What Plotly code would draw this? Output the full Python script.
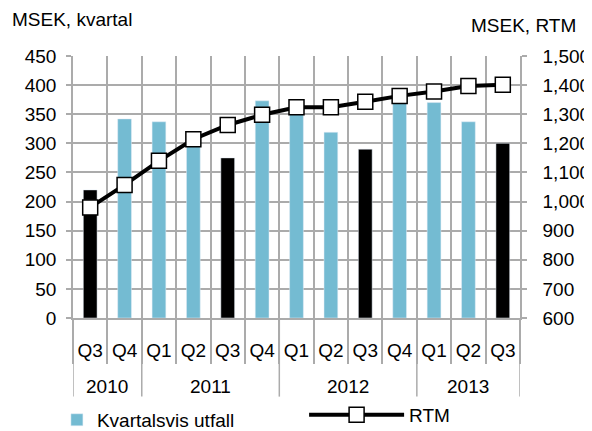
import plotly.graph_objects as go

years = ["2010", "2011", "2012", "2013"]
year_span = [2, 4, 4, 3]  # number of quarters shown per year
quarters = ["Q3", "Q4", "Q1", "Q2", "Q3", "Q4", "Q1", "Q2", "Q3", "Q4", "Q1", "Q2", "Q3"]
kvartal = [220, 342, 337, 305, 275, 373, 360, 319, 290, 372, 370, 337, 300]
rtm = [980, 1057, 1140, 1214, 1263, 1298, 1324, 1324, 1343, 1363, 1378, 1397, 1401]

BLUE = "#74BBD2"
GRID = "#ABABAB"
FONT = "Liberation Sans, Arial, sans-serif"
FS = 19

pos = list(range(len(quarters)))
bounds = [i - 0.5 for i in range(len(quarters) + 1)]
blue_vals = [v if q != "Q3" else None for v, q in zip(kvartal, quarters)]
black_vals = [v if q == "Q3" else None for v, q in zip(kvartal, quarters)]

fig = go.Figure()
fig.add_trace(go.Bar(x=pos, y=blue_vals, name="Kvartalsvis utfall", marker_color=BLUE, width=0.4, legend="legend"))
fig.add_trace(go.Bar(x=pos, y=black_vals, name="Q3", marker_color="#000000", width=0.4, showlegend=False))
fig.add_trace(
    go.Scatter(
        x=pos,
        y=rtm,
        yaxis="y2",
        name="RTM",
        legend="legend2",
        mode="lines+markers",
        line={"color": "#000000", "width": 4},
        marker={"symbol": "square", "size": 15, "color": "#FFFFFF", "line": {"color": "#000000", "width": 1.5}},
    )
)

# year labels centred under their quarters, dividers between the years
annotations = []
shapes = []
start = 0
for yr, n in zip(years, year_span):
    annotations.append(
        {"text": yr, "x": start + (n - 1) / 2, "xref": "x", "y": -0.263, "yref": "paper",
         "showarrow": False, "xanchor": "center", "yanchor": "middle", "font": {"size": FS}}
    )
    shapes.append(
        {"type": "line", "xref": "x", "yref": "paper", "x0": start - 0.5, "x1": start - 0.5,
         "y0": 0, "y1": -0.30, "line": {"color": GRID, "width": 1.5}}
    )
    start += n
shapes.append(
    {"type": "line", "xref": "x", "yref": "paper", "x0": start - 0.5, "x1": start - 0.5,
     "y0": 0, "y1": -0.30, "line": {"color": GRID, "width": 1.5}}
)
annotations += [
    {"text": "MSEK, kvartal", "xref": "paper", "yref": "paper", "x": -0.141, "y": 1.141,
     "xanchor": "left", "yanchor": "middle", "showarrow": False, "font": {"size": FS}},
    {"text": "MSEK, RTM", "xref": "paper", "yref": "paper", "x": 1.13, "y": 1.118,
     "xanchor": "right", "yanchor": "middle", "showarrow": False, "font": {"size": FS}},
]

# the page body keeps its 8px default margin, so the figure is 8px smaller
fig.update_layout(
    width=584,
    height=423,
    barmode="overlay",
    plot_bgcolor="#FFFFFF",
    paper_bgcolor="#FFFFFF",
    font={"family": FONT, "size": FS, "color": "#000000"},
    margin={"l": 65, "r": 72, "t": 48, "b": 113, "autoexpand": False},
    xaxis={
        "range": [-0.5, len(quarters) - 0.5],
        "tickmode": "array",
        "tickvals": pos,
        "ticktext": quarters,
        "ticks": "",
        "ticklabelstandoff": 14,
        "showgrid": False,
        "showline": True,
        "linecolor": GRID,
        "linewidth": 1.5,
        "zeroline": False,
        "minor": {
            "tickmode": "array",
            "tickvals": bounds,
            "ticks": "outside",
            "ticklen": 44,
            "tickcolor": GRID,
            "tickwidth": 1.5,
            "showgrid": True,
            "gridcolor": GRID,
            "gridwidth": 1.5,
        },
    },
    yaxis={
        "range": [0, 450],
        "dtick": 50,
        "showgrid": True,
        "gridcolor": GRID,
        "gridwidth": 1.5,
        "showline": True,
        "linecolor": GRID,
        "linewidth": 1.5,
        "ticks": "outside",
        "ticklen": 5,
        "tickcolor": GRID,
        "tickwidth": 1.5,
        "ticklabelstandoff": 6,
        "zeroline": False,
    },
    yaxis2={
        "range": [600, 1500],
        "dtick": 100,
        "overlaying": "y",
        "side": "right",
        "showgrid": False,
        "showline": True,
        "linecolor": GRID,
        "linewidth": 1.5,
        "ticks": "outside",
        "ticklen": 5,
        "tickcolor": GRID,
        "tickwidth": 1.5,
        "ticklabelstandoff": 12,
        "tickformat": ",d",
        "zeroline": False,
    },
    legend={
        "orientation": "h",
        "x": -0.036,
        "y": -0.389,
        "xanchor": "left",
        "yanchor": "middle",
        "itemwidth": 30,
        "bgcolor": "rgba(0,0,0,0)",
    },
    legend2={
        "orientation": "h",
        "x": 0.517,
        "y": -0.37,
        "xanchor": "left",
        "yanchor": "middle",
        "itemwidth": 95,
        "bgcolor": "rgba(0,0,0,0)",
    },
    annotations=annotations,
    shapes=shapes,
)

fig.write_html("out.html")
